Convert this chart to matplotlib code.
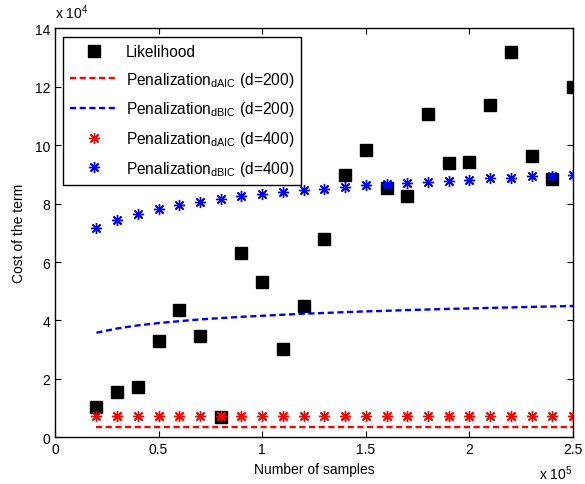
import matplotlib
matplotlib.use('Agg')
import matplotlib.pyplot as plt
from matplotlib.ticker import FuncFormatter, MultipleLocator

plt.rcParams['font.family'] = ['Liberation Sans', 'DejaVu Sans']
plt.rcParams['mathtext.fontset'] = 'custom'
plt.rcParams['mathtext.rm'] = 'Liberation Sans'
plt.rcParams['mathtext.it'] = 'Liberation Sans'
plt.rcParams['font.size'] = 10

# number of samples
samples = [20000, 30000, 40000, 50000, 60000, 70000, 80000, 90000, 100000,
           110000, 120000, 130000, 140000, 150000, 160000, 170000, 180000,
           190000, 200000, 210000, 220000, 230000, 240000, 250000]

likelihood = [10300, 15600, 17100, 33100, 43700, 34800, 6800, 63100, 53300,
              30200, 45100, 67900, 89900, 98200, 85300, 82700, 110600,
              93800, 94200, 113600, 131800, 96200, 88500, 120000]

aic_200 = [3600] * len(samples)
bic_200 = [35800, 37250, 38300, 39100, 39750, 40350, 40800, 41250, 41600,
           41950, 42300, 42550, 42850, 43100, 43300, 43550, 43750, 43950,
           44100, 44300, 44450, 44650, 44800, 44950]
aic_400 = [7200] * len(samples)
bic_400 = [71600, 74500, 76600, 78200, 79500, 80700, 81600, 82500, 83200,
           83900, 84600, 85100, 85700, 86200, 86600, 87100, 87500, 87900,
           88200, 88600, 88900, 89300, 89600, 89900]

fig = plt.figure(figsize=(5.85, 4.85), dpi=100)
ax = fig.add_axes([0.094, 0.0963, 0.8855, 0.8433])

asterisk = (8, 2, 0)
ax.plot(samples, likelihood, 's', color='k', markersize=9, label='Likelihood')
ax.plot(samples, aic_200, color='red', linewidth=1.7, dashes=(2.6, 1.5),
        label=r'Penalization$_{\mathrm{dAIC}}$ (d=200)')
ax.plot(samples, bic_200, color='blue', linewidth=1.7, dashes=(2.6, 1.5),
        label=r'Penalization$_{\mathrm{dBIC}}$ (d=200)')
ax.plot(samples, aic_400, linestyle='none', marker=asterisk, color='red',
        markersize=8, markeredgewidth=1,
        label=r'Penalization$_{\mathrm{dAIC}}$ (d=400)')
ax.plot(samples, bic_400, linestyle='none', marker=asterisk, color='blue',
        markersize=8, markeredgewidth=1,
        label=r'Penalization$_{\mathrm{dBIC}}$ (d=400)')

ax.set_xlim(0, 250000)
ax.set_ylim(0, 140000)
ax.xaxis.set_major_locator(MultipleLocator(50000))
ax.yaxis.set_major_locator(MultipleLocator(20000))
ax.xaxis.set_major_formatter(FuncFormatter(lambda v, p: '{:g}'.format(v / 1e5)))
ax.yaxis.set_major_formatter(FuncFormatter(lambda v, p: '{:g}'.format(v / 1e4)))
ax.tick_params(direction='in', top=True, right=True, length=4, labelsize=10)
for s in ax.spines.values():
    s.set_linewidth(1)

ax.set_xlabel('Number of samples', labelpad=4)
ax.set_ylabel('Cost of the term', labelpad=6)
fig.text(0.094, 0.955, r'x 10$^4$', ha='left', va='bottom', fontsize=10)
fig.text(0.979, 0.004, r'x 10$^5$', ha='right', va='bottom', fontsize=10)

leg = ax.legend(loc='upper left', bbox_to_anchor=(0.016, 0.978), borderaxespad=0,
                fancybox=False, edgecolor='k', framealpha=1, handlelength=3.0,
                handletextpad=0.55, labelspacing=0.68, borderpad=0.45, fontsize=11.2)
leg.get_frame().set_linewidth(1)

fig.savefig('out.png', dpi=100)
